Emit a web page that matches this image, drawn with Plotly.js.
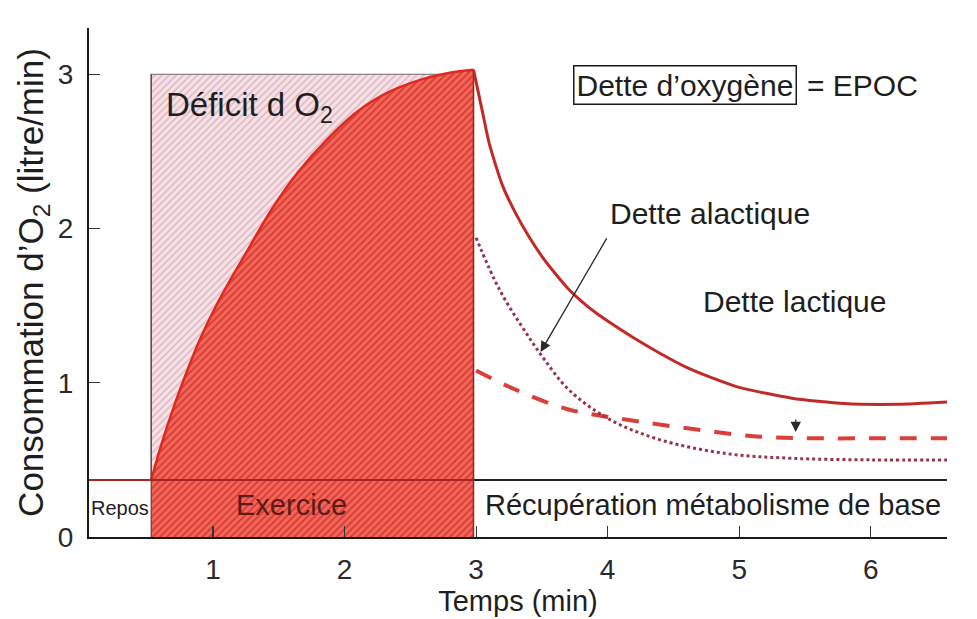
<!DOCTYPE html>
<html>
<head>
<meta charset="utf-8">
<script src="https://cdn.plot.ly/plotly-3.0.1.min.js"></script>
<style>
  html, body { margin: 0; padding: 0; background: #ffffff; }
  #chart { width: 977px; height: 619px; }
</style>
</head>
<body>
<div id="chart"></div>
<script>
// ---- Data ----
var xRange = [0.057, 6.58];
var yRange = [0, 3.3];
var xTicks = [1, 2, 3, 4, 5, 6];
var yTicks = [0, 1, 2, 3];

var restLevel = 0.37;   // VO2 at rest (l/min)
var exStart = 0.53;     // start of exercise (min)
var exEnd = 2.98;       // end of exercise (min)
var steadyVO2 = 3.0;    // O2 demand during exercise (l/min)

// O2 uptake during exercise
var exTime = [0.53, 0.60, 0.70, 0.80, 0.90, 1.00, 1.10, 1.25, 1.45, 1.65, 1.87, 2.10, 2.35, 2.60, 2.80, 2.98];
var exVO2  = [0.37, 0.58, 0.84, 1.07, 1.28, 1.46, 1.62, 1.84, 2.13, 2.37, 2.58, 2.76, 2.89, 2.97, 3.01, 3.03];

// Recovery: total O2 uptake (solid)
var recTime  = [2.98, 3.05, 3.10, 3.20, 3.30, 3.40, 3.50, 3.60, 3.70, 3.80, 3.90, 4.00, 4.20, 4.40, 4.60, 4.80, 5.00, 5.40, 5.80, 6.20, 6.58];
var recTotal = [3.03, 2.75, 2.55, 2.28, 2.10, 1.95, 1.82, 1.71, 1.61, 1.53, 1.46, 1.40, 1.29, 1.19, 1.10, 1.03, 0.97, 0.90, 0.865, 0.86, 0.875];

// Recovery: alactic debt (dotted)
var alTime = [3.00, 3.18, 3.39, 3.52, 3.71, 4.02, 4.40, 4.91, 5.41, 6.00, 6.58];
var alVO2  = [1.94, 1.60, 1.31, 1.15, 0.95, 0.76, 0.63, 0.54, 0.51, 0.50, 0.50];

// Recovery: lactic debt (dashed)
var laTime = [3.00, 3.26, 3.69, 4.15, 4.65, 5.16, 5.60, 6.10, 6.58];
var laVO2  = [1.08, 0.97, 0.83, 0.76, 0.70, 0.65, 0.64, 0.64, 0.64];

// ---- Traces ----
var FONT = '"Liberation Sans", Arial, sans-serif';

var deficitBox = {
  x: [exStart, exStart, exEnd, exEnd, exStart],
  y: [restLevel, steadyVO2, steadyVO2, restLevel, restLevel],
  mode: 'lines', fill: 'toself',
  fillcolor: '#f5dfe4',
  fillpattern: { shape: '/', bgcolor: '#f6e1e6', fgcolor: '#ddb7c0', size: 5, solidity: 0.3 },
  line: { color: '#6b6b6b', width: 1.2 },
  hoverinfo: 'skip'
};

// zero baseline under the exercise curve (for the tonexty fill)
var exBase = {
  x: exTime, y: exTime.map(function () { return 0; }),
  mode: 'lines', line: { color: 'rgba(0,0,0,0)', width: 0 }, hoverinfo: 'skip'
};

var exCurve = {
  x: exTime, y: exVO2, mode: 'lines', fill: 'tonexty',
  fillcolor: '#ef5e52',
  fillpattern: { shape: '/', bgcolor: '#f1675a', fgcolor: '#d93a31', size: 5, solidity: 0.35 },
  line: { color: '#e0281f', width: 2.5, shape: 'spline', smoothing: 1 },
  name: 'Exercice'
};

var restLine = {
  x: [xRange[0], exEnd], y: [restLevel, restLevel], mode: 'lines',
  line: { color: '#a82323', width: 2 }, hoverinfo: 'skip'
};

var baseLine = {
  x: [exEnd, xRange[1]], y: [restLevel, restLevel], mode: 'lines',
  line: { color: '#222222', width: 2 }, hoverinfo: 'skip'
};

var startEdge = {
  x: [exStart, exStart], y: [0, steadyVO2], mode: 'lines',
  line: { color: '#5a4a4a', width: 1.3 }, hoverinfo: 'skip'
};

var endEdge = {
  x: [exEnd, exEnd], y: [0, exVO2[exVO2.length - 1]], mode: 'lines',
  line: { color: '#8a2b2b', width: 1.5 }, hoverinfo: 'skip'
};

var recCurve = {
  x: recTime, y: recTotal, mode: 'lines',
  line: { color: '#c22a27', width: 3, shape: 'spline', smoothing: 0.6 },
  name: 'Dette d’oxygène'
};

var alCurve = {
  x: alTime, y: alVO2, mode: 'lines',
  line: { color: '#983447', width: 3, dash: 'dot', shape: 'spline', smoothing: 1 },
  name: 'Dette alactique'
};

var laCurve = {
  x: laTime, y: laVO2, mode: 'lines',
  line: { color: '#d9403a', width: 4, dash: '17px,14px', shape: 'spline', smoothing: 1 },
  name: 'Dette lactique'
};

var data = [deficitBox, exBase, exCurve, restLine, baseLine, startEdge, endEdge, laCurve, alCurve, recCurve];

var txt = '#1e1e1e';
var layout = {
  width: 977, height: 619,
  margin: { l: 89, r: 30, t: 28, b: 82 },
  paper_bgcolor: '#ffffff', plot_bgcolor: '#ffffff',
  showlegend: false,
  font: { family: FONT, color: txt, size: 28 },
  xaxis: {
    range: xRange, tickvals: xTicks, ticktext: xTicks.map(String),
    ticks: 'inside', ticklen: 11, tickwidth: 1.2, tickcolor: '#333',
    showline: true, linecolor: '#1a1a1a', linewidth: 2,
    showgrid: false, zeroline: false,
    tickfont: { size: 28, color: '#2a2a2a' }, ticklabelstandoff: 6,
    title: { text: 'Temps (min)', font: { size: 29, color: txt }, standoff: 4 }
  },
  yaxis: {
    range: yRange, tickvals: yTicks, ticktext: yTicks.map(String),
    ticks: 'inside', ticklen: 11, tickwidth: 1.2, tickcolor: '#333',
    showline: true, linecolor: '#1a1a1a', linewidth: 2,
    showgrid: false, zeroline: false,
    tickfont: { size: 28, color: '#2a2a2a' }, ticklabelstandoff: 8,
    title: { text: 'Consommation d’O<sub>2</sub> (litre/min)', font: { size: 35, color: txt }, standoff: 4 }
  },
  annotations: [
    { x: exStart + 0.1, y: 2.79, xref: 'x', yref: 'y', xanchor: 'left', yanchor: 'middle',
      text: 'Déficit d O<sub>2</sub>', showarrow: false, font: { size: 33, color: txt } },
    { x: 4.59, y: 2.93, xref: 'x', yref: 'y', xanchor: 'center', yanchor: 'middle',
      text: 'Dette d’oxygène', showarrow: false, font: { size: 30, color: txt },
      bordercolor: '#1a1a1a', borderwidth: 1.5, borderpad: 2 },
    { x: 5.50, y: 2.93, xref: 'x', yref: 'y', xanchor: 'left', yanchor: 'middle',
      text: '= EPOC', showarrow: false, font: { size: 30, color: txt } },
    { x: 4.78, y: 2.10, xref: 'x', yref: 'y', xanchor: 'center', yanchor: 'middle',
      text: 'Dette alactique', showarrow: false, font: { size: 30, color: txt } },
    { x: 5.42, y: 1.53, xref: 'x', yref: 'y', xanchor: 'center', yanchor: 'middle',
      text: 'Dette lactique', showarrow: false, font: { size: 30, color: txt } },
    { x: 3.49, y: 1.20, xref: 'x', yref: 'y', ax: 67, ay: -115,
      text: '', showarrow: true, arrowhead: 2, arrowsize: 1.6, arrowwidth: 1.3, arrowcolor: '#2a2a2a' },
    { x: 5.43, y: 0.68, xref: 'x', yref: 'y', ax: 0, ay: -14,
      text: '', showarrow: true, arrowhead: 2, arrowsize: 1.6, arrowwidth: 1.3, arrowcolor: '#2a2a2a' },
    { x: (xRange[0] + exStart) / 2, y: restLevel / 2, xref: 'x', yref: 'y', xanchor: 'center', yanchor: 'middle',
      text: 'Repos', showarrow: false, font: { size: 20, color: txt } },
    { x: 1.60, y: restLevel / 2 + 0.02, xref: 'x', yref: 'y', xanchor: 'center', yanchor: 'middle',
      text: 'Exercice', showarrow: false, font: { size: 29, color: '#5e1a18' } },
    { x: (exEnd + xRange[1]) / 2 + 0.02, y: restLevel / 2 + 0.02, xref: 'x', yref: 'y', xanchor: 'center', yanchor: 'middle',
      text: 'Récupération métabolisme de base', showarrow: false, font: { size: 29, color: txt } }
  ]
};

Plotly.newPlot('chart', data, layout, { staticPlot: true, displayModeBar: false });
</script>
</body>
</html>
